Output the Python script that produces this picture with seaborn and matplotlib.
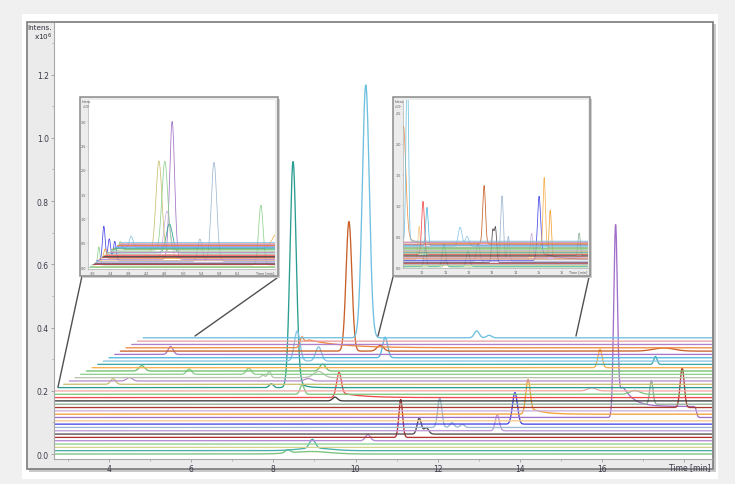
import numpy as np
import pandas as pd
import matplotlib
matplotlib.use("Agg")
import matplotlib.pyplot as plt
from matplotlib.patches import Rectangle
from matplotlib.lines import Line2D
import seaborn as sns

# ---------------- data ----------------
# one colour per chromatogram trace, bottom to top
trace_colors = [
    "#7ac27a", "#47b0a8", "#d5d38e", "#8fd08f", "#b48ad6", "#b03030",
    "#554848", "#c09ad8", "#9db8d2", "#4646e6", "#f6c98a", "#a070c8",
    "#f5a035", "#c8b0dc", "#a83a30", "#8fae98", "#383838", "#f04a4a",
    "#7cc67c", "#f0a8a8", "#2a9d90", "#c8c070", "#b990d0", "#b8c4b0",
    "#8ed08e", "#6cc06c", "#f7b050", "#40a8a8", "#88c4e4", "#50b8e0",
    "#a878c8", "#c86028", "#f08a40", "#b080c8", "#e9a0a0", "#6ec0e0",
]

# main stack: vertical offset between traces (Intens. x10^6) and time shift
main_level_step = 0.0105
main_shift_ref = 20
main_shift_start = 2.76
main_shift_step = 0.138
main_t_end = 18.8

# main peaks: trace index, retention time [min], height, sigma
main_peak_trace = [20, 20, 35, 35, 35, 31, 31, 31, 11, 14, 26, 27, 15, 12, 9, 7,
                   8, 8, 8, 5, 6, 6, 4, 17, 16, 18, 22, 22, 23, 23, 23, 25, 25,
                   24, 24, 21, 30, 28, 28, 29, 32, 1, 0, 1, 0, 19, 18]
main_peak_time = [8.48, 7.95, 10.25, 12.95, 13.25, 9.84, 10.6, 17.5, 16.33, 17.95,
                  15.95, 17.3, 17.2, 14.2, 13.88, 13.45, 12.05, 12.35, 12.6, 11.1,
                  11.55, 11.72, 10.3, 9.6, 9.5, 8.7, 8.85, 4.5, 9.1, 7.75, 7.9,
                  9.2, 4.8, 5.95, 7.4, 4.1, 5.5, 8.58, 9.1, 10.72, 8.7, 8.95,
                  8.35, 9.0, 8.9, 15.75, 16.8]
main_peak_height = [0.715, 0.012, 0.80, 0.022, 0.008, 0.41, 0.018, 0.01, 0.61, 0.125,
                    0.058, 0.025, 0.075, 0.11, 0.10, 0.05, 0.093, 0.015, 0.01, 0.12,
                    0.05, 0.02, 0.02, 0.08, 0.012, 0.03, 0.008, 0.011, 0.02, 0.008,
                    0.02, 0.022, 0.017, 0.017, 0.02, 0.018, 0.025, 0.095, 0.045,
                    0.065, 0.035, 0.028, 0.01, 0.008, 0.008, 0.01, 0.012]
main_peak_width = [0.075, 0.05, 0.085, 0.06, 0.06, 0.07, 0.08, 0.25, 0.045, 0.05,
                   0.05, 0.04, 0.04, 0.055, 0.06, 0.05, 0.05, 0.05, 0.05, 0.045,
                   0.05, 0.06, 0.06, 0.06, 0.06, 0.05, 0.08, 0.07, 0.12, 0.04,
                   0.04, 0.07, 0.07, 0.06, 0.06, 0.06, 0.06, 0.07, 0.07, 0.06,
                   0.05, 0.07, 0.06, 0.4, 0.45, 0.1, 0.12]

# exponential tailing after some peaks: trace, onset, height, decay constant
main_tail_trace = [11, 32, 17, 20, 12]
main_tail_time = [16.36, 8.72, 9.65, 8.52, 14.25]
main_tail_height = [0.12, 0.03, 0.015, 0.03, 0.02]
main_tail_tau = [0.25, 0.8, 0.5, 0.15, 0.3]

# raised baseline segments: trace, start, end, height
main_step_trace = [11]
main_step_start = [16.45]
main_step_end = [18.3]
main_step_height = [0.035]

# left zoom panel
in1_level_step = 0.0145
in1_start = 2.93
in1_shift_step = 0.02
in1_t_end = 7.2
in1_peak_trace = [9, 9, 9, 3, 25, 12, 28, 21, 24, 11, 13, 8, 8, 3, 26, 20]
in1_peak_time = [3.26, 3.38, 3.50, 3.15, 3.62, 3.29, 3.86, 4.47, 4.60, 4.76,
                 4.65, 5.68, 5.37, 6.71, 7.05, 4.70]
in1_peak_height = [0.71, 0.45, 0.40, 0.37, 0.16, 0.20, 0.23, 1.88, 1.83, 2.84,
                   0.96, 2.04, 0.46, 1.23, 0.30, 0.60]
in1_peak_width = [0.03, 0.03, 0.03, 0.025, 0.03, 0.03, 0.04, 0.065, 0.065, 0.055,
                  0.07, 0.06, 0.05, 0.05, 0.1, 0.07]
in1_xticks = [3.0, 3.4, 3.8, 4.2, 4.6, 5.0, 5.4, 5.8, 6.2]
in1_yticks = [0.0, 0.5, 1.0, 1.5, 2.0, 2.5, 3.0]

# right zoom panel
in2_level_step = 0.012
in2_start = 9.1
in2_t_end = 17.2
in2_peak_trace = [32, 35, 10, 17, 29, 1, 28, 28, 1, 1, 31, 6, 6, 8, 8, 7, 9, 26,
                  12, 13, 15, 0]
in2_peak_time = [9.2, 9.36, 9.87, 10.04, 10.21, 10.13, 11.63, 11.93, 10.94, 11.97,
                 12.66, 13.03, 13.15, 13.43, 13.7, 12.4, 15.02, 15.24, 15.5, 14.7,
                 16.74, 11.0]
in2_peak_height = [1.9, 3.2, 0.54, 0.86, 0.62, 0.3, 0.31, 0.16, 0.36, 0.25, 0.95,
                   0.51, 0.55, 1.06, 0.40, 0.30, 1.04, 1.14, 0.78, 0.39, 0.37, 0.12]
in2_peak_width = [0.1, 0.05, 0.05, 0.06, 0.05, 0.05, 0.08, 0.08, 0.07, 0.07, 0.06,
                  0.05, 0.05, 0.06, 0.05, 0.07, 0.07, 0.05, 0.05, 0.05, 0.05, 0.06]
in2_tail_trace = [9, 32]
in2_tail_time = [15.05, 9.25]
in2_tail_height = [0.12, 0.15]
in2_tail_tau = [1.0, 0.3]
in2_xticks = [10, 11, 12, 13, 14, 15, 16]
in2_yticks = [0.0, 0.5, 1.0, 1.5, 2.0, 2.5]

main_xticks = [4, 6, 8, 10, 12, 14, 16, 18]
main_yticks = [0.0, 0.2, 0.4, 0.6, 0.8, 1.0, 1.2]


# ---------------- signal construction ----------------
def build_stack(n, level_step, starts, t_end, peaks, tails=(), steps=(), dt=0.005):
    frames = []
    for i in range(n):
        t = np.arange(starts[i], t_end, dt)
        y = np.full_like(t, i * level_step)
        for tr, c, h, s in zip(*peaks):
            if tr == i:
                y += h * np.exp(-0.5 * ((t - c) / s) ** 2)
        for tr, c, h, tau in zip(*tails) if tails else []:
            if tr == i:
                d = np.clip(t - c, 0, None)
                y += h * np.exp(-d / tau) * (1 - np.exp(-(d / 0.08) ** 2))
        for tr, a, b, h in zip(*steps) if steps else []:
            if tr == i:
                y += h * 0.5 * (np.tanh((t - a) / 0.06) - np.tanh((t - b) / 0.03))
        frames.append(pd.DataFrame({"t": t, "y": y, "trace": i}))
    return pd.concat(frames, ignore_index=True)


n_tr = len(trace_colors)
palette = {i: c for i, c in enumerate(trace_colors)}

main_starts = [main_shift_start + (i - main_shift_ref) * main_shift_step for i in range(n_tr)]
main_df = build_stack(
    n_tr, main_level_step, main_starts, main_t_end,
    (main_peak_trace, main_peak_time, main_peak_height, main_peak_width),
    (main_tail_trace, main_tail_time, main_tail_height, main_tail_tau),
    (main_step_trace, main_step_start, main_step_end, main_step_height),
)
in1_starts = [in1_start + i * in1_shift_step for i in range(n_tr)]
in1_df = build_stack(
    n_tr, in1_level_step, in1_starts, in1_t_end,
    (in1_peak_trace, in1_peak_time, in1_peak_height, in1_peak_width),
    dt=0.004,
)
in2_starts = [in2_start] * n_tr
in2_df = build_stack(
    n_tr, in2_level_step, in2_starts, in2_t_end,
    (in2_peak_trace, in2_peak_time, in2_peak_height, in2_peak_width),
    (in2_tail_trace, in2_tail_time, in2_tail_height, in2_tail_tau),
    dt=0.005,
)

# ---------------- figure ----------------
sns.set_theme(style="white")
plt.rcParams["font.family"] = ["DejaVu Sans"]

W, H = 735, 485
fig = plt.figure(figsize=(W / 100, H / 100), dpi=100)
fig.patch.set_facecolor("#f0f0f0")


def px_rect(x0, y0, x1, y1, **kw):
    return Rectangle((x0 / W, 1 - y1 / H), (x1 - x0) / W, (y1 - y0) / H,
                     transform=fig.transFigure, **kw)


def px_axes(x0, y0, x1, y1, **kw):
    return fig.add_axes([x0 / W, 1 - y1 / H, (x1 - x0) / W, (y1 - y0) / H], **kw)


def px_line(x0, y0, x1, y1, **kw):
    fig.add_artist(Line2D([x0 / W, x1 / W], [1 - y0 / H, 1 - y1 / H],
                          transform=fig.transFigure, **kw))


# white card and the chart frame
fig.add_artist(px_rect(22, 15, 718, 480, facecolor="white", edgecolor="none", zorder=-10))
fig.add_artist(px_rect(29, 25, 715.5, 472.5, facecolor="#c9c9c9", edgecolor="none", zorder=-9))
fig.add_artist(px_rect(27, 23, 713, 470, facecolor="#ebebeb", edgecolor="#7c7c7c",
                       linewidth=1.2, zorder=-8))

# main chromatogram axes
ax = px_axes(54, 23.5, 712, 460)
ax.set_zorder(0)
ax.set_facecolor("white")
sns.lineplot(data=main_df, x="t", y="y", hue="trace", palette=palette, legend=False,
             estimator=None, sort=False, linewidth=0.95, ax=ax)
ax.set_xlim(2.662, 18.676)
ax.set_ylim(-0.0158, 1.365)
ax.set_xlabel("")
ax.set_ylabel("")
ax.set_xticks(main_xticks)
ax.set_xticklabels([f"{v:g}" for v in main_xticks[:-1]] + [""])
ax.set_xticks(np.arange(3, 19, 2), minor=True)
ax.set_yticks(main_yticks)
ax.set_yticklabels([f"{v:.1f}" for v in main_yticks])
ax.set_yticks(np.arange(0.1, 1.35, 0.2), minor=True)
ax.tick_params(axis="both", which="major", length=2.5, width=0.6, color="#9a9a9a",
               labelsize=5.5, labelcolor="#3a3a4a", pad=1.2, direction="out",
               bottom=True, left=True)
ax.tick_params(axis="both", which="minor", length=1.5, width=0.5, color="#9a9a9a",
               bottom=True, left=True)
for side in ("top", "right"):
    ax.spines[side].set_visible(False)
for side in ("left", "bottom"):
    ax.spines[side].set_color("#a8a8a8")
    ax.spines[side].set_linewidth(0.8)
ax.annotate("Time [min]", xy=(1.0, 0.0), xycoords="axes fraction",
            xytext=(-1, -2.2), textcoords="offset points", ha="right", va="top",
            fontsize=5.5, color="#3a3a4a")
fig.text(52 / W, 1 - 25 / H, "Intens.", ha="right", va="top", fontsize=5.2, color="#2a2a35")
fig.text(52 / W, 1 - 32 / H, "x10$^6$", ha="right", va="top", fontsize=5.2, color="#2a2a35")

# connector lines from the zoom panels to the stack
line_kw = dict(color="#505050", linewidth=1.0, zorder=2)
px_line(82, 277, 58, 388, **line_kw)
px_line(277, 279, 195, 337, **line_kw)
px_line(393, 278, 378, 337, **line_kw)
px_line(589, 278, 576, 337, **line_kw)


def zoom_panel(frame, plot, df, xlim, ylim, xticks, yticks, xfmt):
    fx0, fy0, fx1, fy1 = frame
    fig.add_artist(px_rect(fx0 + 1.5, fy0 + 1.5, fx1 + 1.5, fy1 + 1.5,
                           facecolor="#cfcfcf", edgecolor="none", zorder=3))
    fig.add_artist(px_rect(fx0, fy0, fx1, fy1, facecolor="#ececec",
                           edgecolor="#8a8a8a", linewidth=1.1, zorder=3.1))
    iax = px_axes(*plot)
    iax.set_zorder(4)
    iax.set_facecolor("white")
    sns.lineplot(data=df, x="t", y="y", hue="trace", palette=palette, legend=False,
                 estimator=None, sort=False, linewidth=0.55, ax=iax)
    iax.set_xlim(*xlim)
    iax.set_ylim(*ylim)
    iax.set_xlabel("")
    iax.set_ylabel("")
    iax.set_xticks(xticks)
    iax.set_xticklabels([xfmt.format(v) for v in xticks])
    iax.set_yticks(yticks)
    iax.set_yticklabels([f"{v:.1f}" for v in yticks])
    iax.tick_params(axis="both", length=1, width=0.4, color="#aaaaaa", labelsize=2.4,
                    labelcolor="#555560", pad=0.6, bottom=True, left=True)
    for side in ("top", "right"):
        iax.spines[side].set_visible(False)
    for side in ("left", "bottom"):
        iax.spines[side].set_color("#b0b0b0")
        iax.spines[side].set_linewidth(0.5)
    iax.annotate("Time [min]", xy=(1.0, 0.0), xycoords="axes fraction",
                 xytext=(-0.5, -0.8), textcoords="offset points", ha="right", va="top",
                 fontsize=2.4, color="#555560")
    fig.text((fx0 + 1.5) / W, 1 - (fy0 + 2) / H, "Intens.\nx10$^5$", ha="left", va="top",
             fontsize=2.2, color="#555560", linespacing=1.0, zorder=5)


zoom_panel((80, 98, 278, 277), (88, 101, 275, 270), in1_df,
           (2.912, 7.02), (-0.04, 3.44), in1_xticks, in1_yticks, "{:.1f}")
zoom_panel((393, 98, 590, 277), (403, 101, 588, 269), in2_df,
           (9.18, 17.12), (-0.016, 2.71), in2_xticks, in2_yticks, "{:g}")

fig.savefig("out.png", dpi=100, facecolor=fig.get_facecolor())
